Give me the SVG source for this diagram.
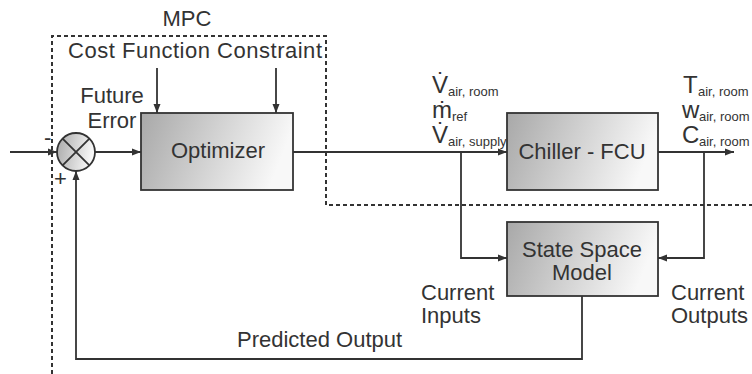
<svg xmlns="http://www.w3.org/2000/svg" width="752" height="374" viewBox="0 0 752 374">
<style>
text{font-family:"Liberation Sans",Arial,sans-serif;fill:#333}
.t{font-size:22px}
.m{font-size:24px}
.s{font-size:13px}
.ln{fill:none;stroke:#333;stroke-width:1.8}
.box{stroke:#333;stroke-width:1.8}
.dash{fill:none;stroke:#333;stroke-width:2;stroke-dasharray:4 3}
</style>
<defs>
<linearGradient id="g" x1="0" y1="0" x2="1" y2="0.2">
<stop offset="0" stop-color="#a8a8a8"/>
<stop offset="1" stop-color="#f8f8f8"/>
</linearGradient>
<marker id="a" markerUnits="userSpaceOnUse" markerWidth="10" markerHeight="8" refX="9" refY="4" orient="auto">
<path d="M0,0.5 L9,4 L0,7.5 z" fill="#333"/>
</marker>
</defs>
<rect width="752" height="374" fill="#fff"/>
<g id="mpc">
<path class="dash" d="M52,374 V36 H326 V205 H752"/>
<text class="t" x="187" y="26" text-anchor="middle">MPC</text>
</g>
<g id="labels">
<text class="t" x="68" y="58" textLength="254">Cost Function Constraint</text>
<text class="t" x="112" y="103" text-anchor="middle">Future</text>
<text class="t" x="112" y="128" text-anchor="middle">Error</text>
<text class="t" x="44" y="145" font-size="18">-</text>
<text class="t" x="54" y="186" font-size="18">+</text>
<text class="m" x="432" y="93">V&#775;<tspan class="s" x="448" dy="3">air, room</tspan></text>
<text class="m" x="432" y="118">&#7745;<tspan class="s" x="452" dy="3">ref</tspan></text>
<text class="m" x="432" y="143">V&#775;<tspan class="s" x="448" dy="3">air, supply</tspan></text>
<text class="m" x="683" y="93">T<tspan class="s" x="698" dy="3">air, room</tspan></text>
<text class="m" x="682" y="118">w<tspan class="s" x="699" dy="3">air, room</tspan></text>
<text class="m" x="682" y="143">C<tspan class="s" x="699" dy="3">air, room</tspan></text>
<text class="t" x="421" y="300">Current</text>
<text class="t" x="421" y="323">Inputs</text>
<text class="t" x="671" y="300">Current</text>
<text class="t" x="671" y="323">Outputs</text>
<text class="t" x="237" y="347">Predicted Output</text>
</g>
<g id="connectors">
<path class="ln" d="M10,152 H57" marker-end="url(#a)"/>
<path class="ln" d="M95,152 H141" marker-end="url(#a)"/>
<path class="ln" d="M157,68 V113" marker-end="url(#a)"/>
<path class="ln" d="M276,68 V113" marker-end="url(#a)"/>
<path class="ln" d="M293,152 H507" marker-end="url(#a)"/>
<path class="ln" d="M461,152 V258 H507" marker-end="url(#a)"/>
<path class="ln" d="M658,152 H734" marker-end="url(#a)"/>
<path class="ln" d="M704,152 V258 H658" marker-end="url(#a)"/>
<path class="ln" d="M582,296 V359 H76 V171" marker-end="url(#a)"/>
</g>
<g id="sum">
<circle cx="76" cy="152" r="19" fill="url(#g)" class="box"/>
<path class="ln" d="M62.6,138.6 L89.4,165.4 M89.4,138.6 L62.6,165.4"/>
</g>
<g id="optimizer">
<rect x="141" y="113" width="152" height="77" fill="url(#g)" class="box"/>
<text class="t" x="218" y="158" text-anchor="middle">Optimizer</text>
</g>
<g id="chiller">
<rect x="507" y="113" width="151" height="77" fill="url(#g)" class="box"/>
<text class="t" x="582" y="159" text-anchor="middle">Chiller - FCU</text>
</g>
<g id="ssm">
<rect x="507" y="222" width="151" height="74" fill="url(#g)" class="box"/>
<text class="t" x="582" y="257" text-anchor="middle">State Space</text>
<text class="t" x="582" y="280" text-anchor="middle">Model</text>
</g>
</svg>
